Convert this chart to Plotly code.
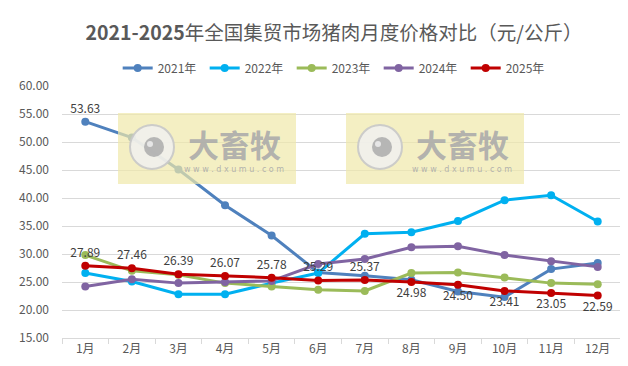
import plotly.graph_objects as go

months = ["1月", "2月", "3月", "4月", "5月", "6月", "7月", "8月", "9月", "10月", "11月", "12月"]
y2021 = [53.63, 50.8, 45.1, 38.7, 33.3, 26.7, 26.1, 25.4, 23.3, 22.3, 27.3, 28.4]
y2022 = [26.6, 25.1, 22.8, 22.8, 24.8, 26.6, 33.6, 33.9, 35.9, 39.6, 40.5, 35.8]
y2023 = [29.8, 27.0, 26.3, 24.8, 24.2, 23.6, 23.4, 26.6, 26.7, 25.8, 24.8, 24.6]
y2024 = [24.2, 25.5, 24.8, 25.0, 25.2, 28.2, 29.1, 31.2, 31.4, 29.8, 28.7, 27.7]
y2025 = [27.89, 27.46, 26.39, 26.07, 25.78, 25.29, 25.37, 24.98, 24.50, 23.41, 23.05, 22.59]
series_names = ["2021年", "2022年", "2023年", "2024年", "2025年"]
yticks = [15, 20, 25, 30, 35, 40, 45, 50, 55, 60]

colors = ["#4F81BD", "#00B0F0", "#9BBB59", "#8064A2", "#C00000"]
all_y = [y2021, y2022, y2023, y2024, y2025]

# page body has an 8px margin; figure placed inside the 628x366 window
OFF = 8
W, H = 628 - OFF, 366 - OFF
L, R, T, B = 62 - OFF, 7, 86 - OFF, 28
PW, PH = W - L - R, H - T - B

def px_x(px):
    return (px - OFF - L) / PW

def px_y(py):
    return (H - B - (py - OFF)) / PH

fig = go.Figure()
for i, (name, ys, c) in enumerate(zip(series_names, all_y, colors)):
    text = None
    pos = None
    if i == 0:
        text = ["%.2f" % ys[0]] + [""] * (len(ys) - 1)
        pos = "top center"
    elif i == 4:
        text = ["%.2f" % v for v in ys]
        pos = ["top center"] * 7 + ["bottom center"] * 5
    fig.add_trace(go.Scatter(
        x=months, y=ys, name=name,
        mode="lines+markers+text" if text else "lines+markers",
        line=dict(color=c, width=3),
        marker=dict(color=c, size=8),
        text=text, textposition=pos,
        textfont=dict(size=12, color="#404040", family="Noto Sans CJK SC"),
        cliponaxis=False,
    ))

shapes = []
annotations = []
for (x0, x1) in [(118, 296), (346, 524)]:
    y0, y1 = 113, 184
    shapes.append(dict(type="rect", xref="paper", yref="paper",
                       x0=px_x(x0), x1=px_x(x1), y0=px_y(y1), y1=px_y(y0),
                       fillcolor="rgba(240,232,170,0.7)", line=dict(width=0), layer="above"))
    cx, cy, r = x0 + 34, 147, 22
    shapes.append(dict(type="circle", xref="paper", yref="paper",
                       x0=px_x(cx - r), x1=px_x(cx + r), y0=px_y(cy + r), y1=px_y(cy - r),
                       fillcolor="rgba(240,240,240,0.85)", line=dict(color="rgba(200,200,200,0.9)", width=2),
                       layer="above"))
    r2 = 10
    shapes.append(dict(type="circle", xref="paper", yref="paper",
                       x0=px_x(cx + 2 - r2), x1=px_x(cx + 2 + r2), y0=px_y(cy + r2), y1=px_y(cy - r2),
                       fillcolor="rgba(175,175,175,0.9)", line=dict(width=0), layer="above"))
    r3 = 3
    shapes.append(dict(type="circle", xref="paper", yref="paper",
                       x0=px_x(cx - 2 - r3), x1=px_x(cx - 2 + r3), y0=px_y(cy - 3 + r3), y1=px_y(cy - 3 - r3),
                       fillcolor="rgba(235,235,235,0.9)", line=dict(width=0), layer="above"))
    annotations.append(dict(xref="paper", yref="paper", x=px_x(x0 + 116), y=px_y(143),
                            text="<b>大畜牧</b>", showarrow=False, xanchor="center", yanchor="middle",
                            font=dict(size=31, color="rgba(170,170,170,0.9)", family="Noto Sans CJK SC")))
    annotations.append(dict(xref="paper", yref="paper", x=px_x(x0 + 116), y=px_y(169),
                            text="w w w . d x u m u . c o m", showarrow=False, xanchor="center", yanchor="middle",
                            font=dict(size=8, color="rgba(170,170,170,0.9)", family="DejaVu Sans")))

fig.update_layout(
    width=W, height=H,
    margin=dict(l=L, r=R, t=T, b=B, autoexpand=False),
    paper_bgcolor="white", plot_bgcolor="white",
    title=dict(text="<b>2021-2025</b>年全国集贸市场猪肉月度价格对比（元/公斤）",
               x=(334 - OFF) / W, xanchor="center", y=1 - (33 - OFF) / H, yanchor="middle",
               font=dict(size=19.5, color="#595959", family="Noto Sans CJK SC")),
    legend=dict(orientation="h", x=(311 - OFF) / W, xanchor="center", y=1 - (68 - OFF) / H,
                yref="container", yanchor="middle",
                font=dict(size=12, color="#595959", family="Noto Sans CJK SC"),
                itemwidth=30, entrywidth=42, traceorder="normal"),
    showlegend=True,
    shapes=shapes,
    annotations=annotations,
    font=dict(family="Noto Sans CJK SC", color="#595959"),
)
fig.update_xaxes(
    range=[-0.5, len(months) - 0.5],
    tickson="boundaries", ticks="outside", ticklen=5, tickcolor="#D9D9D9",
    showline=True, linecolor="#D9D9D9", linewidth=1, showgrid=False,
    tickfont=dict(size=12, color="#595959"), automargin=False,
)
fig.update_yaxes(
    range=[15, 60], tickvals=yticks, ticktext=["%.2f" % v for v in yticks],
    showgrid=True, gridcolor="#D9D9D9", gridwidth=1, zeroline=False,
    ticks="", ticklabelstandoff=12, automargin=False,
    tickfont=dict(size=12, color="#595959"),
)

fig.write_html("out.html")
